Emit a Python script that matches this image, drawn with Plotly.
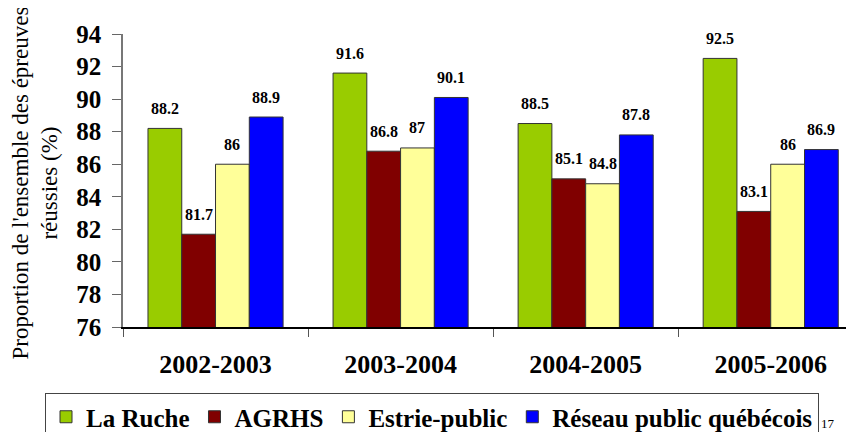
import plotly.graph_objects as go

categories = ["2002-2003", "2003-2004", "2004-2005", "2005-2006"]
series_names = ["La Ruche", "AGRHS", "Estrie-public", "Réseau public québécois"]
la_ruche = [88.2, 91.6, 88.5, 92.5]
agrhs = [81.7, 86.8, 85.1, 83.1]
estrie_public = [86, 87, 84.8, 86]
reseau_public = [88.9, 90.1, 87.8, 86.9]
colors = ["#99CC00", "#800000", "#FFFF99", "#0000FF"]
y_ticks = [76, 78, 80, 82, 84, 86, 88, 90, 92, 94]

FONT = "Liberation Serif, Times New Roman, Times, DejaVu Serif, serif"
all_series = [la_ruche, agrhs, estrie_public, reseau_public]
bargap = 0.27

# page body has an 8px margin: figure origin sits at (8, 8) of the window
OFF = 8
W, H = 854 - OFF, 432 - OFF
L, T, B_Y = 123 - OFF, 34 - OFF, 327 - OFF
PW, PH = W - L, B_Y - T


def px_x(x):
    return (x - OFF - L) / PW


def px_y(y):
    return (B_Y - (y - OFF)) / PH


fig = go.Figure()
for name, vals, col in zip(series_names, all_series, colors):
    fig.add_trace(go.Bar(
        x=categories, y=vals, name=name,
        marker=dict(color=col, line=dict(color="#333333", width=1)),
    ))

# data labels
w = (1 - bargap) / len(all_series)
annotations = []
for i, vals in enumerate(all_series):
    off = (i - (len(all_series) - 1) / 2) * w
    for j, v in enumerate(vals):
        annotations.append(dict(
            x=j + off, y=v, xref="x", yref="y", text=f"<b>{v:g}</b>",
            showarrow=False, yshift=20, yanchor="middle",
            font=dict(family=FONT, size=16, color="black"),
        ))

# y axis title
annotations.append(dict(
    text="Proportion de l'ensemble des épreuves<br>réussies (%)",
    xref="paper", yref="paper", x=0, y=0.5, xanchor="center", yanchor="middle",
    xshift=-88, yshift=-3, textangle=-90, showarrow=False,
    font=dict(family=FONT, size=23, color="black"),
))
# page number
annotations.append(dict(
    text="17", xref="paper", yref="paper", x=px_x(828), y=px_y(423),
    xanchor="center", yanchor="middle", showarrow=False,
    font=dict(family=FONT, size=13, color="black"),
))

fig.update_layout(
    width=W, height=H,
    margin=dict(l=L, r=0, t=T, b=H - B_Y, autoexpand=False),
    paper_bgcolor="white", plot_bgcolor="white",
    barmode="group", bargap=bargap, bargroupgap=0,
    font=dict(family=FONT, color="black"),
    annotations=annotations,
    legend=dict(
        orientation="h", x=px_x(45), y=px_y(393),
        xanchor="left", yanchor="top",
        bordercolor="#444444", borderwidth=1,
        font=dict(family=FONT, size=25, color="black", weight="bold"),
    ),
    xaxis=dict(
        type="category", range=[-0.5, 3.45],
        tickson="boundaries", ticks="outside", ticklen=8, tickcolor="#555555",
        showline=True, linecolor="black", linewidth=1.5,
        tickfont=dict(family=FONT, size=26, color="black", weight="bold"),
        ticklabelstandoff=13,
        showgrid=False,
    ),
    yaxis=dict(
        range=[76, 94], tickvals=y_ticks, ticktext=[str(t) for t in y_ticks],
        ticks="outside", ticklen=9, tickcolor="#666666",
        showline=True, linecolor="#777777", linewidth=1.5,
        tickfont=dict(family=FONT, size=25, color="black", weight="bold"),
        ticklabelstandoff=6,
        showgrid=False, zeroline=False,
    ),
)

fig.write_html("out.html")
